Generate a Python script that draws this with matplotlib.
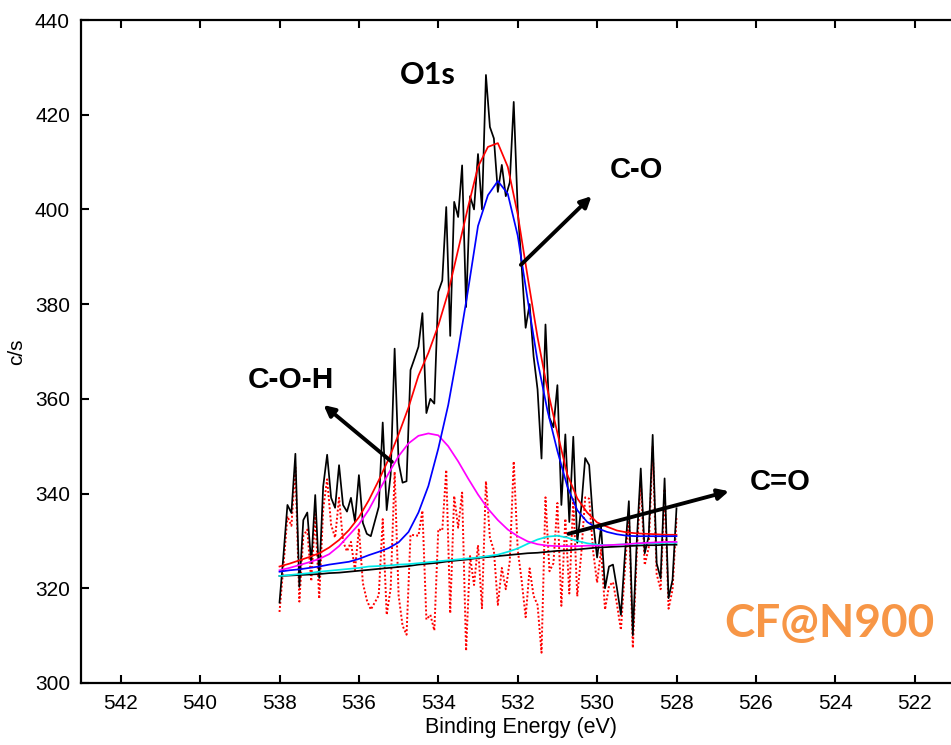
import numpy as np
import matplotlib
matplotlib.use("Agg")
import matplotlib.pyplot as plt

# ---- data ----
# raw spectrum, 538.0 -> 528.0 eV, step 0.1 eV
raw_start, raw_stop = 538.0, 528.0
raw_counts = [317.0, 327.0, 337.6, 335.9, 348.4, 320.3, 334.4, 336.0, 325.3, 339.7,
              322.2, 341.5, 348.2, 339.1, 337.0, 346.0, 337.6, 336.2, 339.1, 334.1,
              343.9, 333.8, 331.5, 331.0, 334.1, 337.2, 355.0, 336.5, 344.0, 370.6,
              346.5, 342.3, 342.6, 366.1, 368.5, 371.0, 378.1, 357.0, 360.0, 359.0,
              382.6, 385.0, 400.5, 373.3, 401.6, 398.4, 409.3, 379.4, 402.8, 400.0,
              411.7, 400.0, 428.4, 417.4, 415.0, 403.7, 409.4, 402.8, 405.7, 422.7,
              400.0, 388.0, 375.0, 380.0, 369.0, 362.0, 347.4, 375.7, 356.0, 354.0,
              362.9, 337.6, 352.5, 334.0, 352.0, 329.6, 337.0, 347.5, 346.0, 334.0,
              326.5, 333.0, 320.0, 324.6, 325.0, 320.0, 314.4, 327.0, 338.4, 310.1,
              330.0, 345.3, 327.4, 331.0, 352.4, 325.3, 322.1, 343.2, 317.9, 321.8,
              336.9]
# residual (dotted red), same energies
residual = [315.0, 324.8, 335.2, 333.2, 345.5, 317.2, 331.1, 332.4, 321.5, 335.6,
            317.8, 336.7, 343.0, 333.4, 330.7, 339.1, 329.9, 327.8, 329.8, 323.8,
            332.6, 321.1, 317.5, 315.5, 317.0, 318.5, 334.6, 314.4, 320.0, 344.6,
            318.5, 312.1, 310.2, 331.3, 331.2, 331.1, 336.4, 313.4, 314.4, 311.1,
            332.5, 332.2, 345.0, 314.7, 339.5, 332.8, 340.2, 306.8, 326.8, 320.7,
            329.1, 315.8, 342.6, 330.7, 328.0, 316.5, 324.3, 319.8, 325.7, 346.8,
            328.2, 321.6, 313.9, 324.2, 318.4, 316.5, 306.4, 339.2, 323.6, 325.3,
            338.0, 316.3, 334.7, 318.9, 338.8, 318.3, 327.2, 339.2, 338.9, 327.8,
            321.2, 328.1, 315.5, 320.5, 321.3, 316.6, 311.2, 324.0, 335.6, 307.4,
            327.4, 342.8, 324.9, 328.6, 350.0, 323.0, 319.8, 341.0, 315.7, 319.7,
            334.8]

# fitted curves, 538.0 -> 528.0 eV, step 0.25 eV
fit_start, fit_stop = 538.0, 528.0
background = [322.6, 322.7, 322.8, 322.9, 323.0, 323.2, 323.3, 323.5, 323.7, 323.9,
              324.1, 324.3, 324.5, 324.7, 325.0, 325.2, 325.4, 325.7, 325.9, 326.1,
              326.4, 326.6, 326.8, 327.0, 327.2, 327.4, 327.5, 327.7, 327.9, 328.0,
              328.2, 328.4, 328.6, 328.7, 328.8, 328.9, 329.0, 329.1, 329.1, 329.2,
              329.2]
peak_CeqO = [322.6, 322.8, 323.0, 323.2, 323.5, 323.7, 323.9, 324.1, 324.3, 324.6,
             324.7, 324.8, 325.0, 325.1, 325.3, 325.5, 325.7, 325.9, 326.1, 326.3,
             326.5, 326.8, 327.1, 327.7, 328.4, 329.4, 330.3, 330.9, 331.1, 330.7,
             330.0, 329.5, 329.2, 329.1, 329.2, 329.3, 329.4, 329.5, 329.5, 329.6,
             329.6]
peak_COH = [323.8, 324.3, 324.9, 325.5, 326.2, 327.2, 328.9, 331.2, 333.5, 336.6,
            340.5, 344.3, 347.9, 350.6, 352.2, 352.7, 352.3, 350.0, 346.8, 343.2,
            339.8, 336.8, 334.4, 332.4, 331.0, 329.9, 329.3, 329.0, 328.9, 328.9,
            328.9, 329.0, 329.0, 329.1, 329.2, 329.3, 329.5, 329.6, 329.7, 329.8,
            329.8]
peak_CO = [323.5, 323.8, 324.0, 324.3, 324.6, 325.0, 325.3, 325.6, 326.2, 327.0,
           327.7, 328.5, 329.7, 331.9, 336.0, 341.6, 349.5, 358.7, 370.3, 383.0,
           396.5, 403.0, 406.0, 403.3, 394.5, 381.0, 368.0, 357.5, 349.0, 341.5,
           336.5, 334.0, 332.7, 331.9, 331.4, 331.1, 331.0, 331.0, 331.0, 331.0,
           331.0]
envelope = [324.6, 325.2, 325.9, 326.6, 327.4, 328.6, 330.2, 332.3, 335.0, 338.6,
            342.8, 347.3, 352.5, 358.2, 364.9, 369.7, 375.5, 382.5, 391.5, 400.5,
            409.0, 413.2, 414.0, 409.0, 399.0, 385.8, 373.0, 362.0, 352.8, 344.0,
            339.0, 336.0, 333.9, 333.0, 332.2, 331.8, 331.6, 331.5, 331.4, 331.3,
            331.3]

x_ticks = [542, 540, 538, 536, 534, 532, 530, 528, 526, 524, 522]
y_ticks = [300, 320, 340, 360, 380, 400, 420, 440]

E_raw = np.linspace(raw_start, raw_stop, len(raw_counts))
E_fit = np.linspace(fit_start, fit_stop, len(envelope))

# ---- figure ----
plt.rcParams['font.family'] = ['Liberation Sans', 'DejaVu Sans']
fig = plt.figure(figsize=(9.51, 7.45), dpi=100)
W, H = 951, 745
ax_left, ax_top, ax_bottom = 81, 20, 683
x_lo, x_hi = 543.0, 520.85
px_per_ev = 39.7
ax_right = ax_left + (x_lo - x_hi) * px_per_ev
ax = fig.add_axes([ax_left / W, (H - ax_bottom) / H,
                   (ax_right - ax_left) / W, (ax_bottom - ax_top) / H])

lw = 1.25
ax.plot(E_raw, residual, color='red', lw=1.4, ls=(0, (1, 1.1)), zorder=2)
ax.plot(E_raw, raw_counts, color='black', lw=lw, zorder=3)
ax.plot(E_fit, background, color='black', lw=lw, zorder=4)
ax.plot(E_fit, peak_CeqO, color='#00E8E8', lw=lw, zorder=5)
ax.plot(E_fit, peak_COH, color='magenta', lw=lw, zorder=6)
ax.plot(E_fit, envelope, color='red', lw=lw, zorder=7)
ax.plot(E_fit, peak_CO, color='blue', lw=lw, zorder=8)

ax.set_xlim(x_lo, x_hi)
ax.set_ylim(300, 440)
ax.set_xticks(x_ticks)
ax.set_yticks(y_ticks)
ax.tick_params(direction='in', length=6, width=1.5, top=True, right=False,
               labelsize=15, pad=8)
for s in ax.spines.values():
    s.set_linewidth(1.6)

ax.set_xlabel('Binding Energy (eV)', fontsize=15.5, labelpad=3)
ax.set_ylabel('c/s', fontsize=15, labelpad=6)

arrow = dict(arrowstyle='-|>', lw=2.8, color='black', mutation_scale=16,
             shrinkA=0, shrinkB=0)
ax.annotate('', xy=(530.14, 402.8), xytext=(531.92, 388.3), arrowprops=arrow, zorder=10)
ax.annotate('', xy=(536.89, 358.7), xytext=(535.17, 346.7), arrowprops=arrow, zorder=10)
ax.annotate('', xy=(526.68, 340.5), xytext=(530.72, 331.5), arrowprops=arrow, zorder=10)

bold = dict(fontweight='bold', ha='center', va='center', zorder=11)
ax.text(534.27, 428.4, 'O1s', fontsize=22, family=['Lato', 'DejaVu Sans'], **bold)
ax.text(529.0, 408.3, 'C-O', fontsize=21, **bold)
ax.text(537.72, 364.0, 'C-O-H', fontsize=21.5, **bold)
ax.text(525.4, 342.4, 'C=O', fontsize=21, **bold)
ax.text(524.14, 312.5, 'CF@N900', fontsize=33, color='#F79646',
        family=['Lato', 'DejaVu Sans'], **bold)

fig.savefig('out.png', dpi=100)
